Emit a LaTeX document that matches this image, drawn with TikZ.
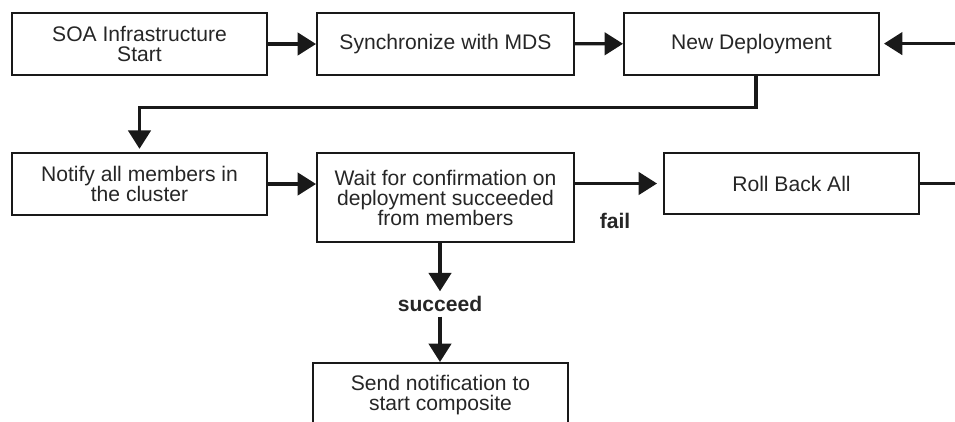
\documentclass[tikz,border=0pt]{standalone}
\usepackage{fontspec}
\setmainfont{Liberation Sans}
\usetikzlibrary{arrows.meta,calc}
\tikzset{
	stepbox/.style={draw=black!90, line width=1.4pt, rectangle, align=center, text=black!85,
		font=\fontsize{15}{14.2}\selectfont, minimum width=6.375cm, minimum height=1.55cm},
	flow/.style={draw=black!90, line width=2.3pt, -{Triangle[length=0.46cm,width=0.56cm]}},
	lbl/.style={font=\fontsize{15}{14.2}\selectfont\bfseries, text=black!85}
}

\begin{document}
\begin{tikzpicture}
			%%%%% START %%%%%
			\useasboundingbox (0, 0) rectangle (23.875, -10.525);
			
			\node[stepbox] (soa) at (3.4875, -1.1) {SOA Infrastructure\\Start};
			\node[stepbox, minimum width=6.425cm] (sync) at (11.1375, -1.1) {Synchronize with MDS};
			\node[stepbox] (newdep) at (18.7875, -1.09) {New Deployment};
			
			\node[stepbox] (notify) at (3.4875, -4.6) {Notify all members in\\the cluster};
			\node[stepbox, minimum width=6.425cm, minimum height=2.225cm] (wait) at (11.1375, -4.9375) {Wait for confirmation on\\deployment succeeded\\from members};
			\node[stepbox, minimum height=1.525cm] (rollback) at (19.7875, -4.5875) {Roll Back All};
			
			\node[lbl] (fail) at (15.375, -5.525) {fail};
			\node[lbl] (succ) at (11.0, -7.6) {succeed};
			
			\node[stepbox, minimum height=0cm, inner ysep=0.3cm, anchor=north] (sendnote) at (11.0125, -9.05) {Send notification to\\start composite};
			
			\coordinate (loopend) at (23.925, -1.09);
			
			\draw[flow] (soa) -- (sync);
			\draw[flow] (sync) -- (newdep);
			\draw[flow, -] (rollback.east) -| (loopend);
			\draw[flow, shorten >=0.1cm] (loopend) -- (newdep.east);
			
			\draw[flow, shorten >=0.08cm] ($(newdep.south)+(0.11, 0)$) -- ++(0, -0.8) -| (notify.north);
			
			\draw[flow] (notify.east) -- (notify.east -| wait.west);
			\draw[flow, shorten >=0.15cm] (rollback.west -| wait.east) -- (rollback.west);
			
			\draw[flow] (wait.south -| succ) -- (succ.north);
			\draw[flow] (succ.south) -- (sendnote.north -| succ);
			
			%%%%% END %%%%%
		\end{tikzpicture}
\end{document}
